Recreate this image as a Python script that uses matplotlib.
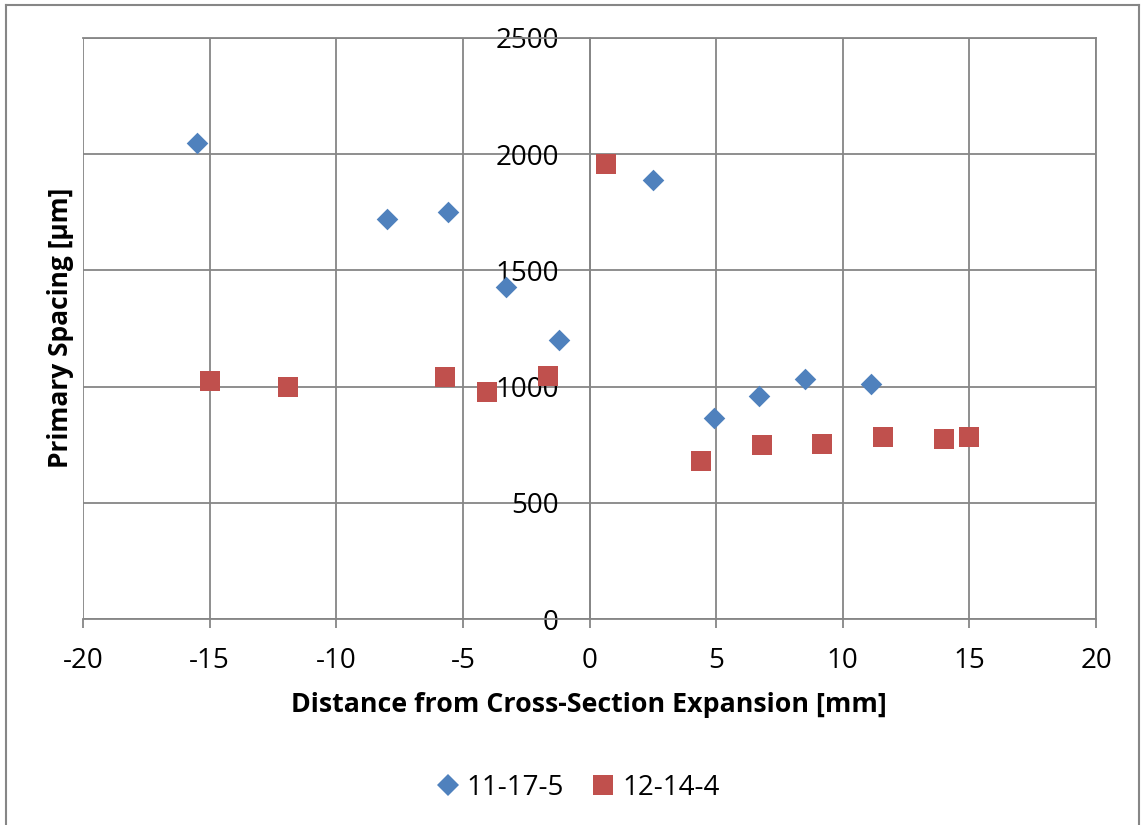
import matplotlib
matplotlib.use("Agg")
import matplotlib.pyplot as plt
from matplotlib.lines import Line2D

plt.rcParams['font.family'] = ['Open Sans', 'DejaVu Sans']
plt.rcParams['axes.unicode_minus'] = False

# Data
s1_name = "11-17-5"
s1_x = [-15.5, -8.0, -5.6, -3.3, -1.2, 2.5, 4.9, 6.7, 8.5, 11.1]
s1_y = [2050, 1720, 1750, 1430, 1200, 1890, 865, 958, 1032, 1012]

s2_name = "12-14-4"
s2_x = [-15.0, -11.9, -5.7, -4.05, -1.65, 0.65, 4.4, 6.8, 9.2, 11.6, 14.0, 15.0]
s2_y = [1022, 998, 1040, 977, 1045, 1958, 678, 748, 752, 782, 775, 783]

x_ticks = [-20, -15, -10, -5, 0, 5, 10, 15, 20]
y_ticks = [0, 500, 1000, 1500, 2000, 2500]

x_label = "Distance from Cross-Section Expansion [mm]"
y_label = "Primary Spacing [µm]"

W, H = 1144, 825
fig = plt.figure(figsize=(W / 100, H / 100), dpi=100)
grey = '#868686'

ax = fig.add_axes([83 / W, 1 - 619 / H, (1096 - 83) / W, (619 - 38) / H])
ax.set_xlim(-20, 20)
ax.set_ylim(0, 2500)
ax.set_xticks(x_ticks)
ax.set_yticks(y_ticks)
ax.grid(True, color=grey, linewidth=1.3, zorder=0)
ax.set_axisbelow(True)

ax.spines['left'].set_position(('data', 0))
for sp in ax.spines.values():
    sp.set_color(grey)
    sp.set_linewidth(1.3)

ax.tick_params(axis='x', direction='out', length=6.5, width=1.3, color=grey,
               labelsize=20, pad=14)
ax.tick_params(axis='y', length=0, labelsize=20, pad=22)
for lab in ax.get_yticklabels():
    lab.set_zorder(10)

ax.scatter(s1_x, s1_y, marker='D', s=11**2, color='#4F81BD', zorder=3,
           linewidths=0, label=s1_name)
ax.scatter(s2_x, s2_y, marker='s', s=15**2, color='#C0504D', zorder=3,
           linewidths=0, label=s2_name)

fig.text(589 / W, 1 - 705 / H, x_label, ha='center', va='center',
         fontsize=19.3, fontweight='bold')
fig.text(61 / W, 1 - 328 / H, y_label, ha='center', va='center',
         fontsize=19, fontweight='bold', rotation=90)

handles = [
    Line2D([], [], marker='D', linestyle='none', color='#4F81BD', markersize=11,
           markeredgewidth=0),
    Line2D([], [], marker='s', linestyle='none', color='#C0504D', markersize=14.5,
           markeredgewidth=0),
]
fig.legend(handles, [s1_name, s2_name], loc='center', ncol=2,
           bbox_to_anchor=(578 / W, 1 - 788 / H), frameon=False, fontsize=20,
           handlelength=0.8, handletextpad=0.29, columnspacing=1.0,
           borderpad=0, borderaxespad=0)

# Outer chart border
bx0, bx1, by0 = 6 / W, 1139 / W, 1 - 5 / H
for xs, ys in [([bx0, bx0], [by0, -0.1]), ([bx1, bx1], [by0, -0.1]), ([bx0, bx1], [by0, by0])]:
    fig.add_artist(Line2D(xs, ys, transform=fig.transFigure, color=grey, linewidth=1.5))

fig.savefig("out.png", dpi=100)
